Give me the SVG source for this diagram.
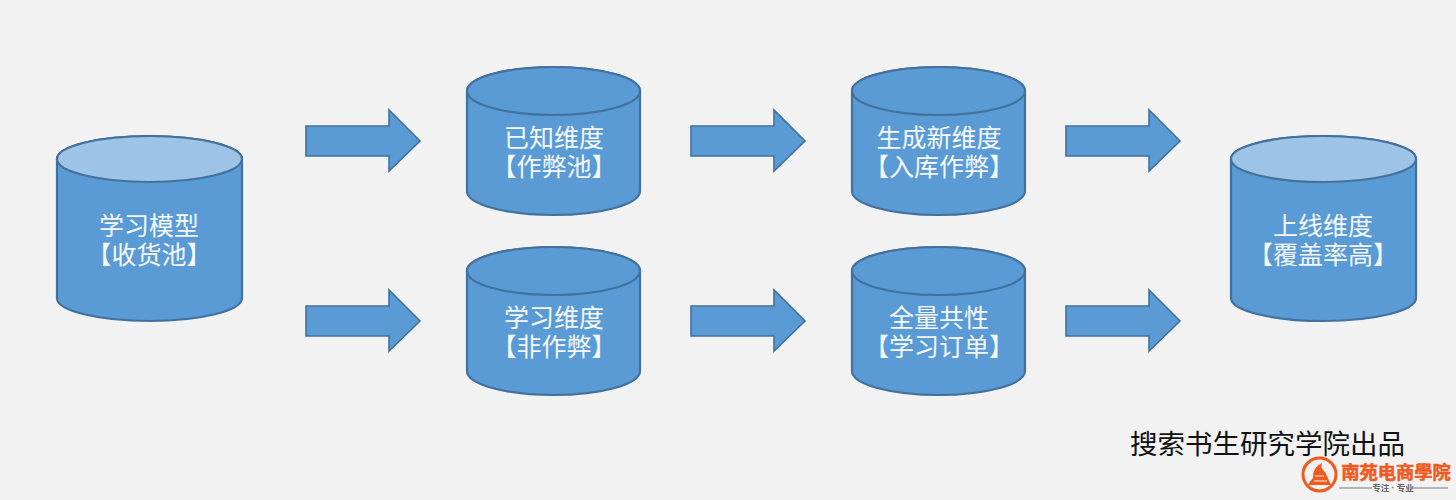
<svg xmlns="http://www.w3.org/2000/svg" width="1456" height="500" viewBox="0 0 1456 500">
<style>
text{font-family:"Liberation Sans","Noto Sans CJK SC",sans-serif;text-anchor:middle}
.c{fill:#5b9bd5;stroke:#41719c;stroke-width:2.2}
.l{fill:#9dc3e6}
.t{fill:#f4f8fb;font-size:25px}
.a{fill:#5b9bd5;stroke:#41719c;stroke-width:1.6}
</style>
<defs>
<path id="big" class="c" d="M57 159A92.500 23 0 0 1 242 159V298A92.500 23 0 0 1 57 298Z"/>
<path id="small" class="c" d="M467 91A86.500 24 0 0 1 640 91V191A86.500 24 0 0 1 467 191Z"/>
<path id="ar" class="a" d="M306 126H389V110L420 141L389 171V156H306Z"/>
</defs>
<rect width="1456" height="500" fill="#f2f2f2"/>
<g id="connectors">
<use href="#ar"/>
<use href="#ar" y="180"/>
<use href="#ar" x="385"/>
<use href="#ar" x="385" y="180"/>
<use href="#ar" x="760"/>
<use href="#ar" x="760" y="180"/>
</g>
<g id="n1"><use href="#big"/><ellipse class="c l" cx="149.500" cy="159" rx="92.500" ry="23"/>
<text class="t" x="149" y="235">学习模型</text><text class="t" x="149" y="264">【收货池】</text></g>
<g id="n2"><use href="#small"/><ellipse class="c" cx="553.500" cy="91" rx="86.500" ry="24"/>
<text class="t" x="554" y="147">已知维度</text><text class="t" x="554" y="176">【作弊池】</text></g>
<g id="n3"><use href="#small" y="180"/><ellipse class="c" cx="553.500" cy="271" rx="86.500" ry="24"/>
<text class="t" x="554" y="327">学习维度</text><text class="t" x="554" y="356">【非作弊】</text></g>
<g id="n4"><use href="#small" x="385"/><ellipse class="c" cx="938.500" cy="91" rx="86.500" ry="24"/>
<text class="t" x="939" y="147">生成新维度</text><text class="t" x="939" y="176">【入库作弊】</text></g>
<g id="n5"><use href="#small" x="385" y="180"/><ellipse class="c" cx="938.500" cy="271" rx="86.500" ry="24"/>
<text class="t" x="939" y="327">全量共性</text><text class="t" x="939" y="356">【学习订单】</text></g>
<g id="n6"><use href="#big" x="1174"/><ellipse class="c l" cx="1323.500" cy="159" rx="92.500" ry="23"/>
<text class="t" x="1323" y="235">上线维度</text><text class="t" x="1323" y="264">【覆盖率高】</text></g>
<text x="1267.500" y="454" font-size="27.500" fill="#111">搜索书生研究学院出品</text>
<g id="logo">
<circle cx="1319.500" cy="474.500" r="16.500" fill="#f2f2f2" stroke="#f15a1e" stroke-width="3"/>
<path d="M1308 485Q1310 481 1313 478Q1312 468 1322 463Q1320 468 1325 472Q1328 478 1331 485Z" fill="#f15a1e"/>
<path d="M1315 476H1324M1314 481H1327" stroke="#f2f2f2" stroke-width="1.200"/>
<text x="1396" y="479" font-size="18.300" font-weight="700" fill="#f15a1e" stroke="#f15a1e" stroke-width=".5">南苑电商學院</text>
<path d="M1339 488H1372M1413 488H1448" stroke="#777" stroke-width="1.200"/>
<text x="1393" y="491" font-size="8.500" font-weight="700" fill="#666">专注 · 专业</text>
</g>
</svg>
